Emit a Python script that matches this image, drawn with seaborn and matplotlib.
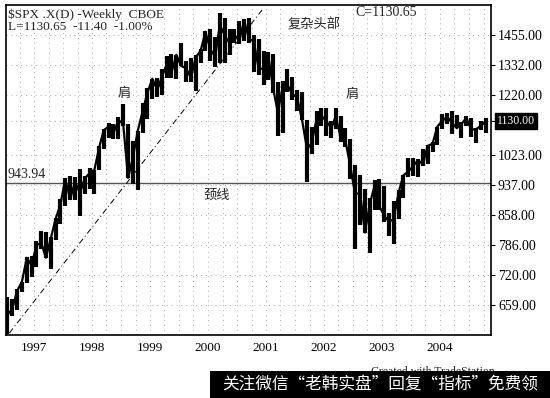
import matplotlib
matplotlib.use("Agg")
import matplotlib.pyplot as plt
from matplotlib.patches import Rectangle
import pandas as pd
import seaborn as sns

# monthly bars, S&P 500 weekly chart (Jul 1996 - Oct 2004)
months = pd.date_range("1996-07-01", "2004-10-01", freq="MS") + pd.Timedelta(days=14)
high = [675, 671, 690, 706, 758, 762,
        794, 818, 817, 805, 851, 899, 957, 961, 960, 983, 961, 986,
        980, 1050, 1106, 1123, 1122, 1145, 1190, 1122, 1066, 1098, 1193, 1245,
        1280, 1283, 1316, 1370, 1375, 1374, 1421, 1347, 1362, 1373, 1397, 1474,
        1479, 1445, 1553, 1528, 1482, 1480, 1517, 1525, 1530, 1454, 1439, 1389,
        1383, 1376, 1268, 1270, 1316, 1287, 1240, 1230, 1135, 1111, 1163, 1173,
        1176, 1131, 1173, 1147, 1107, 1071, 994, 965, 925, 902, 952, 954,
        935, 864, 895, 924, 965, 1015, 1015, 1011, 1040, 1054, 1063, 1112,
        1155, 1159, 1163, 1150, 1127, 1146, 1141, 1109, 1131, 1142]
low = [605, 639, 649, 684, 703, 716,
       737, 776, 756, 733, 798, 836, 882, 898, 898, 855, 913, 926,
       912, 980, 1040, 1076, 1074, 1074, 1114, 957, 939, 923, 1092, 1137,
       1205, 1212, 1222, 1282, 1281, 1279, 1328, 1268, 1268, 1233, 1341, 1387,
       1350, 1325, 1339, 1339, 1373, 1420, 1416, 1429, 1420, 1305, 1295, 1255,
       1275, 1228, 1082, 1091, 1232, 1203, 1165, 1134, 945, 1026, 1054, 1114,
       1081, 1075, 1105, 1063, 1049, 953, 776, 834, 815, 768, 872, 872,
       840, 806, 789, 847, 902, 960, 962, 960, 990, 997, 1031, 1053,
       1105, 1122, 1088, 1107, 1076, 1113, 1078, 1060, 1100, 1090]
close = [640, 651, 687, 705, 757, 740,
         786, 790, 757, 801, 848, 885, 954, 899, 947, 915, 955, 970,
         980, 1049, 1101, 1112, 1091, 1134, 1121, 957, 1017, 1099, 1164, 1229,
         1280, 1238, 1286, 1335, 1302, 1373, 1329, 1320, 1283, 1363, 1389, 1469,
         1394, 1366, 1499, 1452, 1421, 1455, 1431, 1518, 1437, 1429, 1315, 1320,
         1366, 1240, 1160, 1249, 1256, 1224, 1211, 1134, 1041, 1060, 1139, 1148,
         1130, 1107, 1147, 1077, 1067, 990, 912, 916, 815, 886, 936, 880,
         856, 841, 848, 917, 964, 975, 990, 1008, 996, 1051, 1058, 1112,
         1131, 1145, 1126, 1107, 1121, 1141, 1102, 1104, 1115, 1130]

price_ticks = [659, 720, 786, 858, 937, 1023, 1130, 1220, 1332, 1455]
years = [1997, 1998, 1999, 2000, 2001, 2002, 2003, 2004]
neckline = 943.94
trend_dates = ["1996-07-28", "2000-12-06"]
trend_prices = [607, 1566]

df = pd.DataFrame({"date": months, "high": high, "low": low, "close": close})

sns.set_style("white")
plt.rcParams["font.family"] = ["Liberation Serif", "Noto Sans CJK SC"]
cjk = ["Noto Sans CJK SC", "DejaVu Sans"]

fig = plt.figure(figsize=(5.5, 3.98), dpi=100)
ax = fig.add_axes([6 / 550, 1 - 335 / 398, 485 / 550, 330 / 398])
ax.set_yscale("log")

ax.vlines(df["date"], df["low"], df["high"], color="black", lw=3.0, zorder=3)
sns.lineplot(data=df, x="date", y="close", color="black", lw=1.6, ax=ax, zorder=3)

ax.axhline(neckline, color="#555555", lw=1.0, zorder=2)
ax.plot(pd.to_datetime(trend_dates), trend_prices, color="black", lw=0.7,
        ls=(0, (6, 3, 1, 3)), zorder=2)

ax.set_xlim(pd.Timestamp("1996-07-07"), pd.Timestamp("2004-11-17"))
ax.set_ylim(603.5, 1589)

ax.set_xticks(pd.to_datetime([f"{y}-01-01" for y in years]))
ax.set_xticklabels([str(y) for y in years], fontsize=9.5)
ax.set_xticks(pd.date_range("1996-10-01", "2004-10-01", freq="QS"), minor=True)

ax.yaxis.tick_right()
ax.set_yticks(price_ticks)
ax.set_yticks([], minor=True)
ax.set_yticklabels([("" if p == 1130 else f"{p}.00") for p in price_ticks], fontsize=10)
ax.text(1.012, 1130, "1130.00", transform=ax.get_yaxis_transform(), fontsize=8.5,
        color="white", va="center", ha="left",
        bbox=dict(boxstyle="square,pad=0.15", fc="black", ec="black"))

ax.tick_params(axis="both", which="major", direction="out", length=3, width=0.8,
               colors="black", pad=2)
ax.tick_params(axis="x", which="minor", direction="out", length=2, width=0.6)
ax.grid(True, which="both", axis="x", color="#b0b0b0", ls=(0, (1, 4)), lw=0.7)
ax.grid(True, which="major", axis="y", color="#b0b0b0", ls=(0, (1, 4)), lw=0.7)
ax.set_xlabel("")
ax.set_ylabel("")
for s in ax.spines.values():
    s.set_color("black")
    s.set_linewidth(1.2)

# labels (axes offsets in pixels from the top-left corner of the plot)
ax.text(2 / 485, 1 - 10 / 330, r"\$SPX .X(D) -Weekly  CBOE", transform=ax.transAxes,
        fontsize=9.5, va="center", ha="left")
ax.text(2 / 485, 1 - 22 / 330, "L=1130.65  -11.40  -1.00%", transform=ax.transAxes,
        fontsize=9.5, va="center", ha="left")
ax.text(349 / 485, 1 - 8 / 330, "C=1130.65", transform=ax.transAxes,
        fontsize=10, va="center", ha="left")
ax.text(282 / 485, 1 - 20 / 330, "复杂头部", transform=ax.transAxes,
        fontsize=9.5, va="center", ha="left", family=cjk)
ax.text(118 / 485, 1 - 88 / 330, "肩", transform=ax.transAxes,
        fontsize=9.5, va="center", ha="center", family=cjk)
ax.text(346 / 485, 1 - 89 / 330, "肩", transform=ax.transAxes,
        fontsize=9.5, va="center", ha="center", family=cjk)
ax.text(2 / 485, 1 - 169 / 330, "943.94", transform=ax.transAxes,
        fontsize=10, va="center", ha="left")
ax.text(211 / 485, 1 - 190 / 330, "颈线", transform=ax.transAxes,
        fontsize=9.5, va="center", ha="center", family=cjk)

fig.text(495 / 550, 1 - 366 / 398, "Created with TradeStation", fontsize=8.5,
         va="top", ha="right", zorder=4)
fig.add_artist(Rectangle((210 / 550, 0), 340 / 550, 27 / 398,
                         transform=fig.transFigure, fc="black", ec="none", zorder=5))
fig.text(380 / 550, 13 / 398, "关注微信“老韩实盘”回复“指标”免费领", fontsize=12,
         color="white", va="center", ha="center", family=cjk, zorder=6)

fig.savefig("out.png", dpi=100)
